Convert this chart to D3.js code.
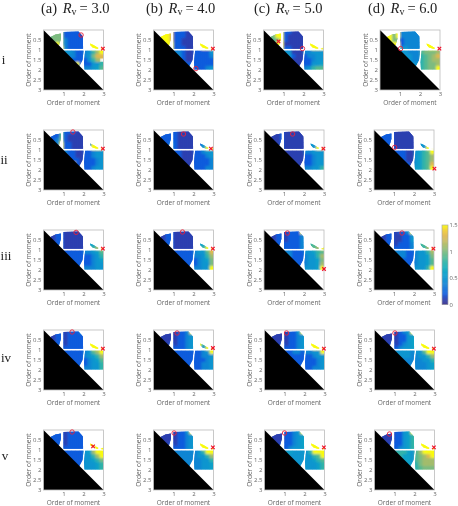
<!DOCTYPE html>
<html><head><meta charset="utf-8">
<script src="https://cdn.jsdelivr.net/npm/d3@7"></script>
<style>html,body{margin:0;padding:0;background:#fff}svg{display:block;filter:blur(.35px)}</style>
</head><body><svg id="c" width="458" height="506"></svg>
<script>
// Values: each character is the value x10 in hex (f = 1.5 or above), one cell per 0.2 order of moment.
const colLabels = ["(a)","(b)","(c)","(d)"];
const rvValues = ["3.0","4.0","5.0","6.0"];
const rowLabels = ["i","ii","iii","iv","v"];
const xTicks = [1,2,3];
const yTicks = [0.5,1,1.5,2,2.5,3];
const barTicks = [0,0.5,1,1.5];
const regions = [
 [[0.35,0.35],[0.6,0.22],[0.87,0.17],[0.87,0.45],[0.78,0.75],[0.7,0.8],[0.4,0.5]],
 [[1.0,0.1],[1.75,0.07],[1.97,0.33],[1.98,0.94],[1.0,0.94]],
 [[1.0,1.04],[2.0,1.04],[1.95,1.5],[1.82,1.75],[1.72,1.9],[1.0,1.9]],
 [[2.08,1.04],[3,1.04],[3,1.97],[2.05,1.97],[2.03,1.6]],
 [[2.33,0.68],[2.5,0.75],[2.75,0.9],[2.7,0.95],[2.45,0.87],[2.35,0.78]],
 [[2.85,0.95],[3,0.88],[3,0.97]]
];
const i_a=[".9aaa33221.....",".9aaa33321.....","..aaa43322.....","...fa43322.ff..","....f43322..fff",".....65433458cf",".....6443346ae".padEnd(15,"e"),".....6433335 8b".replace(" ",""),".....555f333568",".....5555344679"];
const i_b=[".fffe33211.....",".fffe23211.....","..ffe22111.....","...ff22111.ff..","....f33211..fff",".....4421122335",".....4421122234",".....4421122233",".....4442322233",".....4444322345"];
const i_c=[".9aff22111.....",".9aff21111.....","..9af21111.....","...ff11111.ff..","....f22111..fff",".....5511144556",".....5521134456",".....5511133456",".....5521133567",".....5553146899"];
const i_d=[".ffaf44444.....",".ffaf44444.....","..faa34444.....","...ff34444.ff..","....f55444..ff.",".....654449aaab",".....6554489abd",".....6554489abc",".....6665589aac",".....66f6689aaf"];
const ii_a=[".333922211.....",".333921111.....","..34a21111.....","...4f22111.4f..","....f22111..fff",".....4321133456",".....4221123456",".....4222122345",".....43f2122345",".....4444433456"];
const ii_b=[".222321111.....",".222321111.....","..22321111.....","...2421111.36..","....421111..6ff",".....3211123456",".....2211122345",".....2211122334",".....2221122334",".....3332223344"];
const ii_c=[".111211111.....",".111211111.....","..11211111.....","...1211111.55..","....311111..5ff",".....1111144556",".....1111133456",".....1111133456",".....1111133456",".....2111144568"];
const ii_d=[".222211111.....",".222211111.....","..22211111.....","...2311111.56..","....311111..5f.",".....332116789f",".....332116789b",".....332116789c",".....333216789e",".....444317789f"];
const iii_a=[".112211111.....",".112211111.....","..12211111.....","...2211111.77..","....311111..8bf",".....3322244579",".....3322233468",".....3222233457",".....3332233456",".....3333244456"];
const iii_b=[".112211111.....",".112211111.....","..12211111.....","...2211111.77..","....311111..8ff",".....332224569e",".....332224468c",".....332223457a",".....333223456a",".....333324456f"];
const iii_c=[".11221223f.....",".112212234.....","..12212234.....","...2222234.89..","....322234..9cf",".....4433355789",".....443334568b",".....433334567a",".....444334567b",".....444435567f"];
const iii_d=[".11221235f.....",".112211235.....","..12211235.....","...2212234.89..","....322234..8cf",".....444334568b",".....444334567a",".....4333345679",".....4443345679",".....444435668f"];
const iv_a=[".112212234.....",".112212223.....","..12212223.....","...2212223.ff..","....322223..fff",".....33333459cf",".....333334578c",".....3333334579",".....3333334568",".....3333344568"];
const iv_b=[".11111234f.....",".111112345.....","..11112345.....","...1212345.f8..","....323345..6ff",".....333333345f",".....3333333446",".....3333333345",".....3333333445",".....3333333445"];
const iv_c=[".11111235f.....",".111112346.....","..11112346.....","...1212345.ff..","....323345..fff",".....334434456f",".....3333333456",".....3333333345",".....3333333345",".....3333333445"];
const iv_d=[".11111246f.....",".111112357.....","..11112357.....","...1213457.ff..","....324567..fff",".....55554569ff",".....555544568b",".....4544444568",".....4444444457",".....4444444457"];
const v_a=[".222212223.....",".222212223.....","..22212223.....","...2212223.ff..","....322223...ff",".....3333357cff",".....33333568bf",".....333335678a",".....3333355678",".....3333355678"];
const v_b=[".11111235f.....",".111112346.....","..11112346.....","...1212346.ff..","....323346..fff",".....44444458ff",".....444444568b",".....3444444568",".....4444444567",".....4444444567"];
const v_c=[".11112346f.....",".111123467.....","..11123467.....","...1223467.ff..","....334567..fff",".....7766568fff",".....666655689f",".....6666556789",".....6666655678",".....6666656678"];
const v_d=[".11112357f.....",".111123578.....","..11123578.....","...1223578.ff..","....334578..fff",".....888769cfff",".....887769abdf",".....877769abcc",".....777778abbb",".....7777789aaa"];
const grids=[[i_a,i_b,i_c,i_d],[ii_a,ii_b,ii_c,ii_d],[iii_a,iii_b,iii_c,iii_d],[iv_a,iv_b,iv_c,iv_d],[v_a,v_b,v_c,v_d]];
const circleX=[[1.88,2.12,1.95,1.03],[1.47,1.5,1.43,1.03],[1.63,1.45,1.17,1.4],[1.43,1.18,1.1,1.02],[1.43,1.03,1.0,0.75]];
const circleY=[[0.25,1.93,0.93,0.93],[0.1,0.2,0.2,0.87],[0.12,0.1,0.15,0.15],[0.1,0.15,0.15,0.15],[0.1,0.15,0.15,0.2]];
const crossX=[[2.97,2.97,0.75,2.97],[2.97,2.87,2.97,3.02],[2.97,2.97,3.0,2.97],[2.97,2.97,2.97,2.97],[2.48,2.97,2.97,2.97]];
const crossY=[[0.93,0.93,0.57,0.93],[0.93,0.93,0.93,1.93],[0.93,0.93,1.95,0.93],[0.93,0.9,0.93,0.93],[0.82,0.87,0.87,0.87]];
const parula=["#352a87","#2a3fb0","#0f5cdd","#1272d8","#1085d3","#0a95cf","#08a0c8","#15aeb9","#30b3a8","#55b990","#7dbb80","#a3bc6c","#c5ba60","#e0b850","#f0cc30","#f9fb0e"];

const frameLeft=[[43.5,153.5,263.5,380],[43.5,153.5,264,374],[43.5,153.5,264,374],[43.5,153.5,264.5,374.5],[43.5,153.5,264.5,374.5]];
const frameTop=[30,130,230,330,430];
const titleX=[41,146,254,368];
const rowLabelX=[3.5,4,6,6,5], rowLabelY=[64,164,260,362,460];
const S=60;
const svg=d3.select("#c");
const color=d3.scaleQuantize().domain([0,1.6]).range(parula);
const sans="'Open Sans','DejaVu Sans',sans-serif";
const gray="#666";

const defs=svg.append("defs");
defs.append("filter").attr("id","soft").attr("x","-10%").attr("y","-10%").attr("width","120%").attr("height","120%")
  .append("feGaussianBlur").attr("stdDeviation",1.3);

colLabels.forEach((l,i)=>{
  const t=svg.append("text").attr("x",titleX[i]).attr("y",13).attr("font-family","'Liberation Serif',serif").attr("font-size",14.5).attr("fill","#222");
  t.append("tspan").text(l+"\u00a0");
  t.append("tspan").attr("font-style","italic").attr("dx",2).text("R");
  t.append("tspan").attr("font-size",10).attr("dy",2).text("v");
  t.append("tspan").attr("dy",-2).attr("dx",3).text("= "+rvValues[i]);
});
rowLabels.forEach((l,r)=>svg.append("text").attr("x",rowLabelX[r]).attr("y",rowLabelY[r]).attr("text-anchor","middle").attr("font-family","'Liberation Serif',serif").attr("font-size",13).attr("fill","#222").text(l));

grids.forEach((row,r)=>row.forEach((grid,c)=>{
  const x=d3.scaleLinear().domain([0,3]).range([0,S]);
  const y=d3.scaleLinear().domain([0,3]).range([0,S]);
  const g=svg.append("g").attr("transform",`translate(${frameLeft[r][c]},${frameTop[r]})`);
  const id=`clip${r}${c}`;
  g.append("clipPath").attr("id",id).selectAll("polygon").data(regions).join("polygon")
    .attr("points",d=>d.map(p=>[x(p[0]),y(p[1])].join(",")).join(" "));
  const cells=[];
  grid.forEach((s,ri)=>[...s].forEach((ch,ci)=>{ if(ch!==".") cells.push({ci,ri,v:parseInt(ch,16)/10}); }));
  const heat=g.append("g").attr("clip-path",`url(#${id})`);
  const drawCells=sel=>sel.selectAll("rect").data(cells).join("rect")
    .attr("x",d=>x(d.ci*0.2)).attr("y",d=>y(d.ri*0.2))
    .attr("width",x(0.2)+0.3).attr("height",y(0.2)+0.3)
    .attr("fill",d=>color(d.v));
  heat.append("g").call(drawCells);
  heat.append("g").attr("filter","url(#soft)").call(drawCells);
  g.append("polygon").attr("points",[[0,0],[3,3],[0,3]].map(p=>[x(p[0]),y(p[1])].join(",")).join(" ")).attr("fill","#000");
  g.append("rect").attr("width",S).attr("height",S).attr("fill","none").attr("stroke","#bbb").attr("stroke-width",.8);
  const ax=g.append("g").attr("transform",`translate(0,${S})`).call(d3.axisBottom(x).tickValues(xTicks).tickSize(0).tickPadding(2).tickFormat(d3.format("d")));
  const ay=g.append("g").call(d3.axisLeft(y).tickValues(yTicks).tickSize(0).tickPadding(2).tickFormat(d=>d));
  [ax,ay].forEach(a=>{a.select(".domain").remove();a.selectAll("text").attr("font-family",sans).attr("font-size",6).attr("fill",gray);});
  ax.selectAll("text").attr("dy","0.7em");
  g.append("text").attr("x",S/2).attr("y",S+15).attr("text-anchor","middle").attr("font-family",sans).attr("font-size",6.5).attr("fill",gray).text("Order of moment");
  g.append("text").attr("transform",`translate(-12.5,${S/2}) rotate(-90)`).attr("text-anchor","middle").attr("font-family",sans).attr("font-size",6.5).attr("fill",gray).text("Order of moment");
  g.append("circle").attr("cx",x(circleX[r][c])).attr("cy",y(circleY[r][c])).attr("r",2.2).attr("fill","none").attr("stroke","#e8203a").attr("stroke-width",.9);
  g.append("path").attr("transform",`translate(${x(crossX[r][c])},${y(crossY[r][c])})`).attr("d",d3.symbol(d3.symbolTimes,10)).attr("stroke","#f0102a").attr("stroke-width",1.2).attr("fill","#f0102a");
}));

// colour bar
const barY=d3.scaleLinear().domain([0,1.5]).range([304.5,225]);
const bar=svg.append("g");
const barSteps=d3.range(0,1.5,0.01);
const barColor=d3.scaleLinear().domain(d3.range(16).map(i=>i/10)).range(parula);
bar.selectAll("rect").data(barSteps).join("rect").attr("x",442).attr("width",6).attr("y",d=>barY(d+0.01)).attr("height",barY(0)-barY(0.01)+.3).attr("fill",d=>barColor(d));
bar.append("rect").attr("x",442).attr("width",6).attr("y",225).attr("height",79.5).attr("fill","none").attr("stroke","#aaa").attr("stroke-width",.7);
const barAxis=svg.append("g").attr("transform","translate(448,0)").call(d3.axisRight(barY).tickValues(barTicks).tickSize(0).tickPadding(1.5).tickFormat(d=>d));
barAxis.select(".domain").remove();
barAxis.selectAll("text").attr("font-family",sans).attr("font-size",5.8).attr("fill",gray);
</script></body></html>
